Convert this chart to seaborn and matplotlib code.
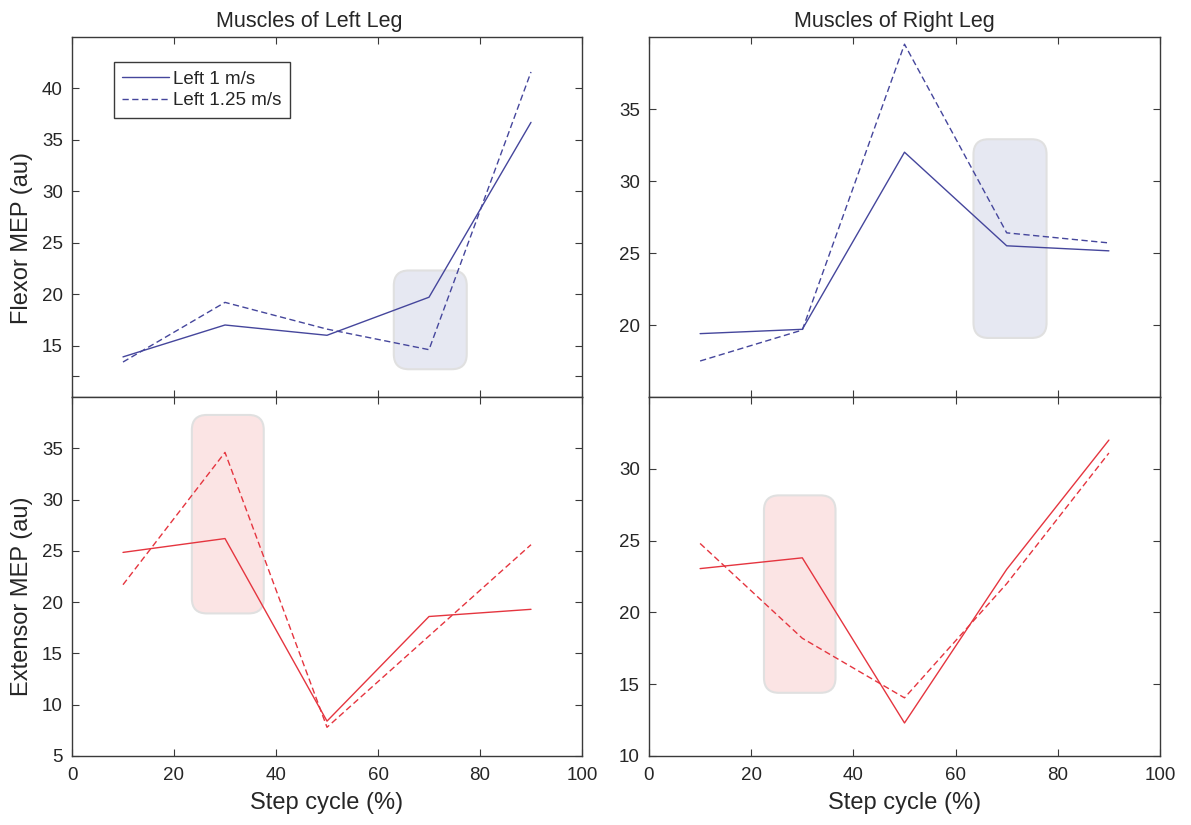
import numpy as np
import pandas as pd
import matplotlib
matplotlib.use("Agg")
import matplotlib.pyplot as plt
import seaborn as sns
from matplotlib.patches import FancyBboxPatch

# ---------------- data ----------------
step = [10, 30, 50, 70, 90]
speeds = ["Left 1 m/s", "Left 1.25 m/s"]

flex_left_1 = [13.9, 17.0, 16.0, 19.7, 36.7]
flex_left_125 = [13.4, 19.2, 16.6, 14.6, 41.6]
flex_right_1 = [19.4, 19.7, 32.0, 25.5, 25.15]
flex_right_125 = [17.5, 19.65, 39.5, 26.4, 25.7]
ext_left_1 = [24.85, 26.2, 8.4, 18.6, 19.3]
ext_left_125 = [21.7, 34.6, 7.8, 16.7, 25.6]
ext_right_1 = [23.05, 23.8, 12.3, 23.0, 32.0]
ext_right_125 = [24.8, 18.2, 14.05, 22.0, 31.1]

# highlight regions: (x0, x1, y0, y1)
hl_flex_left = (63.1, 77.4, 12.7, 22.3)
hl_flex_right = (63.5, 77.8, 19.1, 32.9)
hl_ext_left = (23.5, 37.6, 18.9, 38.25)
hl_ext_right = (22.5, 36.5, 14.4, 28.15)

xticks = [0, 20, 40, 60, 80, 100]
yticks_fl = [12, 15, 20, 25, 30, 35, 40]
yticklabels_fl = ["", "15", "20", "25", "30", "35", "40"]
yticks_fr = [20, 25, 30, 35]
yticks_el = [5, 10, 15, 20, 25, 30, 35]
yticks_er = [10, 15, 20, 25, 30]

titles = ["Muscles of Left Leg", "Muscles of Right Leg"]
ylabels = ["Flexor MEP (au)", "Extensor MEP (au)"]
xlabel = "Step cycle (%)"

# ---------------- style ----------------
sns.set_style("white")
plt.rcParams["font.family"] = ["Liberation Sans", "DejaVu Sans"]
plt.rcParams["text.color"] = "#262626"
plt.rcParams["axes.labelcolor"] = "#262626"

blue = "#45469c"
red = "#e5353f"
fill_blue = "#e6e8f2"
fill_red = "#fbe4e4"
edge_hl = "#e0e0e0"
axis_c = "#3a3a3a"

W, H = 1191, 825
fig = plt.figure(figsize=(W / 100, H / 100), dpi=100)

lx0, lx1 = 72, 582
rx0, rx1 = 649, 1160
ty0, ymid, by1 = 37, 397, 756


def add_ax(x0, x1, ytop, ybot):
    return fig.add_axes([x0 / W, 1 - ybot / H, (x1 - x0) / W, (ybot - ytop) / H])


ax_fl = add_ax(lx0, lx1, ty0, ymid)
ax_fr = add_ax(rx0, rx1, ty0, ymid)
ax_el = add_ax(lx0, lx1, ymid, by1)
ax_er = add_ax(rx0, rx1, ymid, by1)

dash_map = {speeds[0]: "", speeds[1]: (4.5, 2.5)}


def make_df(a, b):
    return pd.DataFrame({
        "step": step + step,
        "mep": list(a) + list(b),
        "speed": [speeds[0]] * len(step) + [speeds[1]] * len(step),
    })


def draw(ax, a, b, color, ylim, hl, fillc, legend=False):
    df = make_df(a, b)
    sns.lineplot(data=df, x="step", y="mep", style="speed", dashes=dash_map,
                 color=color, lw=1.0, ax=ax, legend=legend, zorder=3)
    ax.set_xlim(0, 100)
    ax.set_ylim(*ylim)
    ax.set_xticks(xticks)
    ax.set_xlabel("")
    ax.set_ylabel("")
    # rounded highlight box, corrected for axis aspect
    fig.canvas.draw()
    bb = ax.get_window_extent()
    xpp = 100 / bb.width
    ypp = (ylim[1] - ylim[0]) / bb.height
    r_px = 15
    x0, x1, y0, y1 = hl
    patch = FancyBboxPatch((x0, y0), x1 - x0, y1 - y0,
                           boxstyle=f"round,pad=0,rounding_size={r_px * xpp}",
                           mutation_aspect=ypp / xpp,
                           facecolor=fillc, edgecolor=edge_hl, lw=1.5, zorder=1)
    ax.add_patch(patch)
    ax.tick_params(direction="in", length=5, width=0.8, colors=axis_c,
                   labelcolor="#262626", labelsize=13.5,
                   top=True, right=True, bottom=True, left=True)
    ax.tick_params(axis="x", pad=8)
    ax.tick_params(axis="y", pad=6.5)
    for s in ax.spines.values():
        s.set_color(axis_c)
        s.set_linewidth(1.0)
        s.set_zorder(5)


draw(ax_fl, flex_left_1, flex_left_125, blue, (10, 45), hl_flex_left, fill_blue, legend=True)
draw(ax_fr, flex_right_1, flex_right_125, blue, (15, 40), hl_flex_right, fill_blue)
draw(ax_el, ext_left_1, ext_left_125, red, (5, 40), hl_ext_left, fill_red)
draw(ax_er, ext_right_1, ext_right_125, red, (10, 35), hl_ext_right, fill_red)

ax_fl.set_yticks(yticks_fl)
ax_fl.set_yticklabels(yticklabels_fl)
ax_fr.set_yticks(yticks_fr)
ax_el.set_yticks(yticks_el)
ax_er.set_yticks(yticks_er)

for ax in (ax_fl, ax_fr):
    ax.tick_params(labelbottom=False)

ax_fl.set_title(titles[0], fontsize=15.5, pad=7.5, x=0.466)
ax_fr.set_title(titles[1], fontsize=15.5, pad=7.5, x=0.481)
ax_fl.set_ylabel(ylabels[0], fontsize=17)
ax_el.set_ylabel(ylabels[1], fontsize=17)
ax_fl.yaxis.set_label_coords(-0.077, 0.442)
ax_el.yaxis.set_label_coords(-0.077, 0.444)
ax_el.set_xlabel(xlabel, fontsize=17, labelpad=6)
ax_er.set_xlabel(xlabel, fontsize=17, labelpad=6)

leg = ax_fl.legend(loc="upper left", bbox_to_anchor=(0.0824, 0.9306), borderaxespad=0,
                   fontsize=13.5, frameon=True, fancybox=False, handlelength=2.5,
                   handletextpad=0.2, borderpad=0.45, labelspacing=0.25)
leg.get_frame().set_edgecolor(axis_c)
leg.get_frame().set_linewidth(1.0)
leg.get_frame().set_alpha(1)

fig.savefig("out.png", dpi=100, facecolor="white")
